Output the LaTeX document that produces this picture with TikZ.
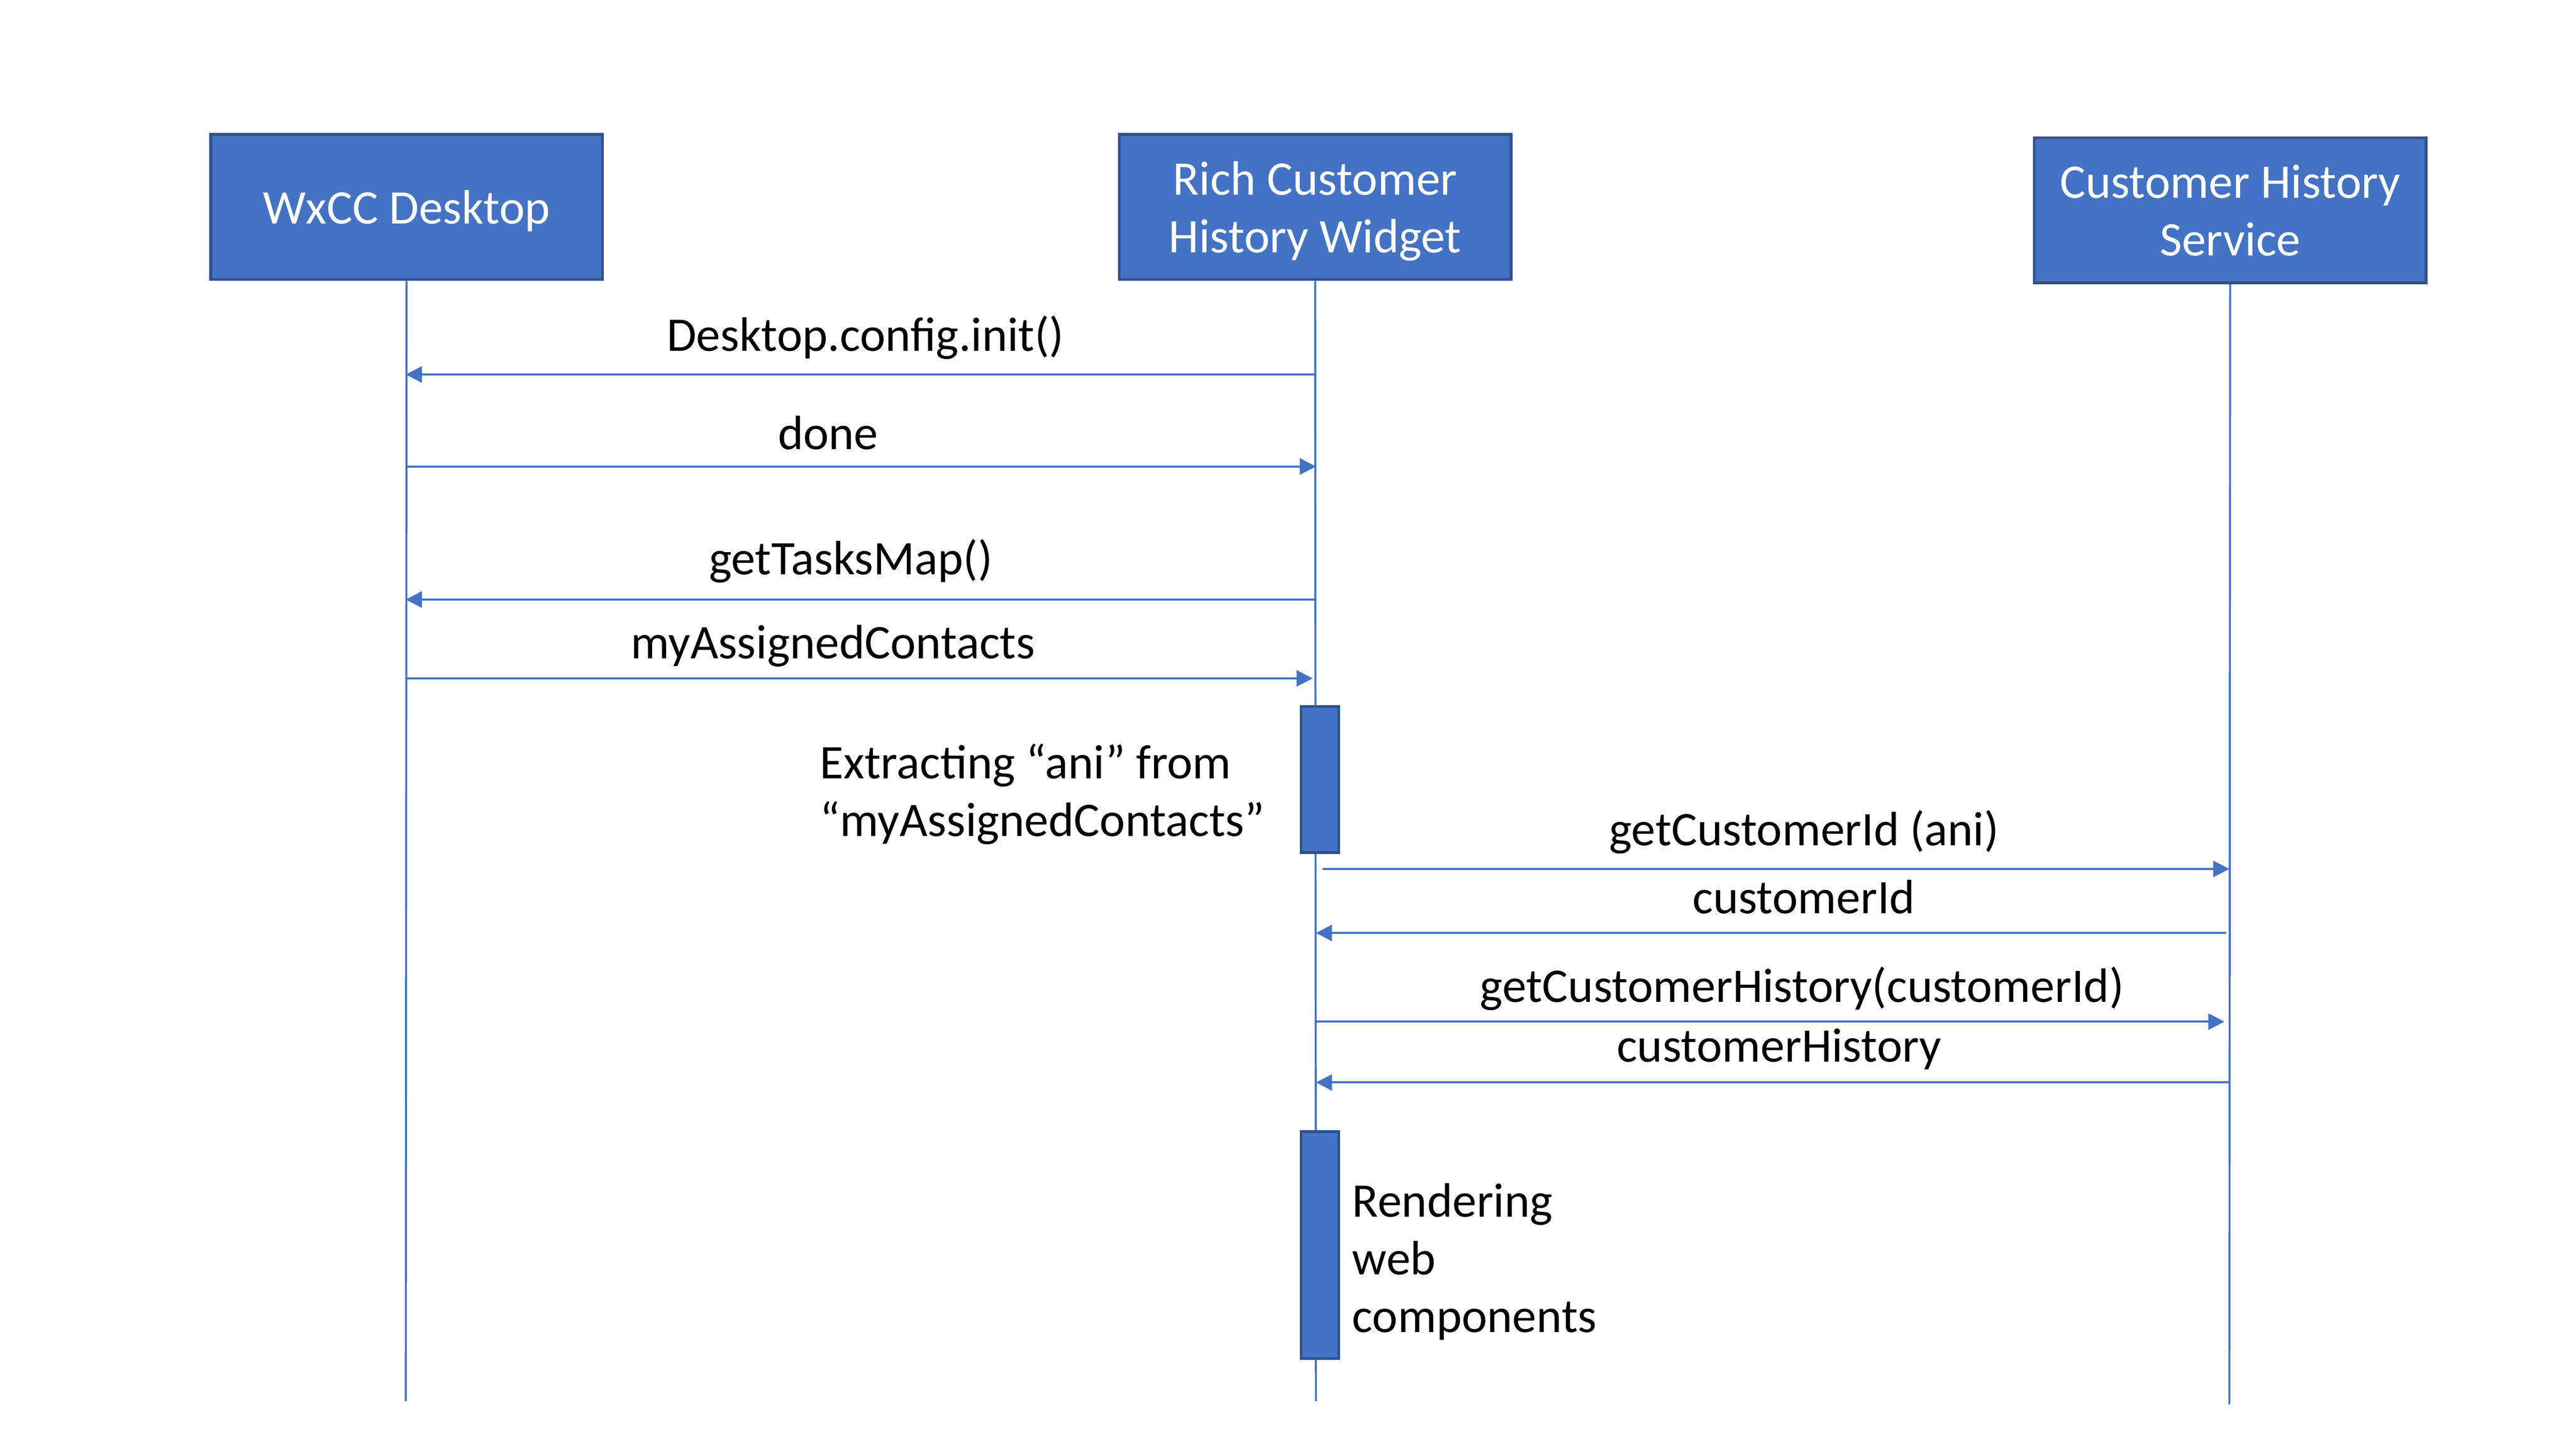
\documentclass[tikz,border=0pt]{standalone}
\usepackage{fontspec}
\setmainfont{Carlito}
\usetikzlibrary{positioning,arrows.meta}
\definecolor{boxblue}{HTML}{4472C4}
\definecolor{boxedge}{HTML}{2F528F}

\begin{document}
\begin{tikzpicture}[x=0.6122pt, y=-0.6122pt, font=\fontsize{18}{21.5}\selectfont,
	main/.style = {draw=boxedge, line width=1.1pt, fill=boxblue, text=white, minimum width=146pt, minimum height=54pt, text depth=0pt, align=center},
	act/.style = {draw=boxedge, line width=1pt, fill=boxblue, minimum width=14pt, inner sep=0pt},
	life/.style = {draw=boxblue, line width=0.75pt},
	msg/.style = {draw=boxblue, line width=0.75pt, -{Triangle[width=6pt,length=6pt]}}]
		\useasboundingbox (0,0) rectangle (1568,882);

		\node[main] (1) at (247.5,126) {WxCC Desktop};
		\node[main] (2) at (800.5,126) {Rich Customer\\History Widget};
		\node[main] (3) at (1357.5,128) {Customer History\\Service};

		% lifelines
		\coordinate (e1) at (247,853);
		\coordinate (e2) at (801,853);
		\coordinate (e3) at (1357,855);
		\draw[life] (1) -- (e1);
		\draw[life] (2) -- (e2);
		\draw[life] (3) -- (e3);

		\node[act, minimum height=54.5pt] (a1) at (803.5,474.5) {};
		\node[act, minimum height=84.5pt] (a2) at (803.5,758) {};

		% message end points
		\coordinate (m1a) at (801,228);  \coordinate (m1b) at (247,228);
		\coordinate (m2a) at (247,284);  \coordinate (m2b) at (801,284);
		\coordinate (m3a) at (801,365);  \coordinate (m3b) at (247,365);
		\coordinate (m4a) at (247,413);  \coordinate (m4b) at (799,413);
		\coordinate (m5a) at (805,529);  \coordinate (m5b) at (1357,529);
		\coordinate (m6a) at (1355,568); \coordinate (m6b) at (801,568);
		\coordinate (m7a) at (801,622);  \coordinate (m7b) at (1354,622);
		\coordinate (m8a) at (1357,659); \coordinate (m8b) at (801,659);

		\draw[msg] (m1a) -- node[above=2pt, pos=0.495] {Desktop.config.init()} (m1b);
		\draw[msg] (m2a) -- node[above=2.5pt, pos=0.464] {done} (m2b);
		\draw[msg] (m3a) -- node[above=2.5pt, pos=0.511] {getTasksMap()} (m3b);
		\draw[msg] (m4a) -- node[above=0.5pt, pos=0.471] {myAssignedContacts} (m4b);
		\draw[msg] (m5a) -- node[above=2pt, pos=0.531] {getCustomerId (ani)} (m5b);
		\draw[msg] (m6a) -- node[above=3.5pt, pos=0.464] {customerId} (m6b);
		\draw[msg] (m7a) -- node[above=0.5pt, pos=0.535] {getCustomerHistory(customerId)} (m7b);
		\draw[msg] (m8a) -- node[above=1pt, pos=0.493] {customerHistory} (m8b);

		\node[align=left, left=9.6pt of a1, yshift=-5.5pt] (t1) {Extracting “ani” from\\“myAssignedContacts”};
		\node[align=left, right=1pt of a2, yshift=-6.2pt] (t2) {Rendering\\web\\components};
	\end{tikzpicture}
\end{document}
